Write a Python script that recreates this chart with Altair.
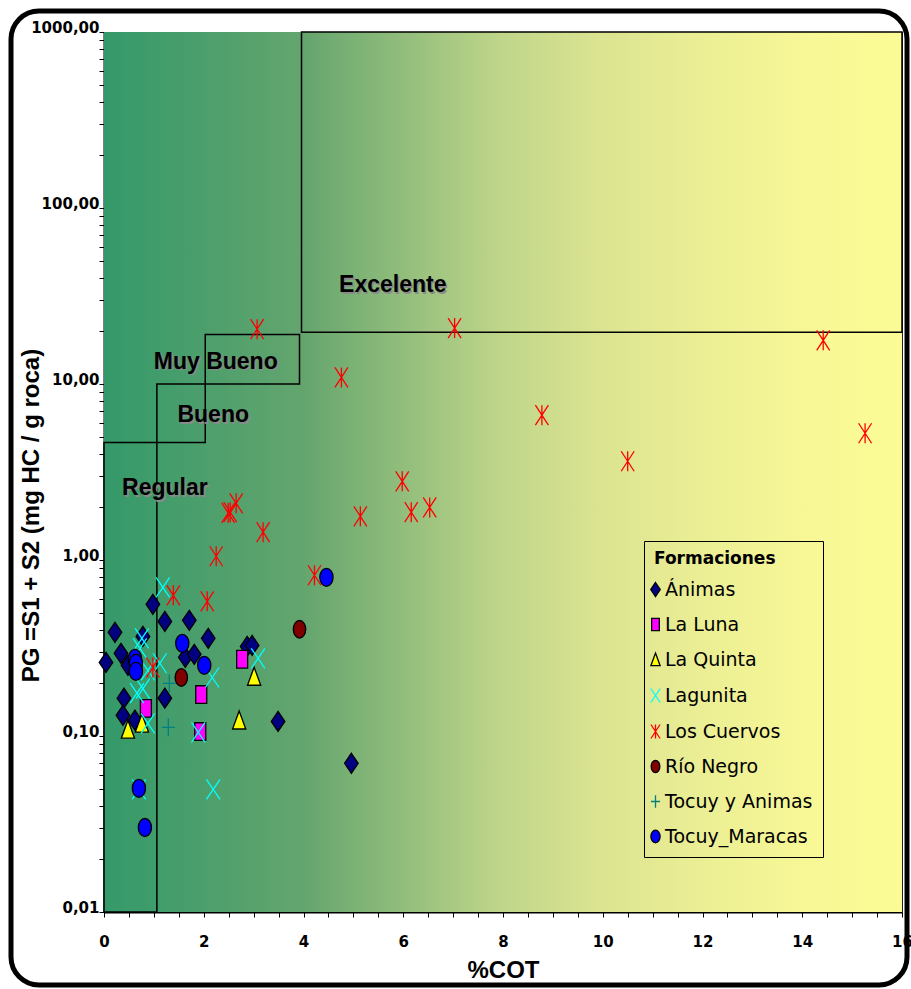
import altair as alt
import pandas as pd

# ---------------------------------------------------------------------------
# Series: %COT (x) and PG = S1 + S2 in mg HC / g roca (y)
# ---------------------------------------------------------------------------
formaciones = ["Ánimas", "La Luna", "La Quinta", "Lagunita", "Los Cuervos",
               "Río Negro", "Tocuy y Animas", "Tocuy_Maracas"]

animas_cot = [0.04, 0.22, 0.34, 0.48, 0.40, 0.38, 0.62, 0.78, 0.98, 1.22,
              1.71, 1.22, 1.63, 1.81, 2.09, 2.87, 2.97, 3.49, 4.96]
animas_pg = [0.262, 0.388, 0.295, 0.252, 0.164, 0.131, 0.123, 0.368, 0.560, 0.448,
             0.454, 0.164, 0.280, 0.291, 0.359, 0.323, 0.327, 0.121, 0.070]

laluna_cot = [0.84, 1.95, 1.93, 2.77]
laluna_pg = [0.1435, 0.172, 0.106, 0.273]

laquinta_cot = [0.48, 0.76, 3.01, 2.71]
laquinta_pg = [0.109, 0.118, 0.218, 0.123]

lagunita_cot = [1.18, 0.76, 0.72, 0.88, 1.12, 0.66, 0.78, 0.88, 3.09, 2.17,
                1.89, 0.70, 2.19]
lagunita_pg = [0.70, 0.359, 0.315, 0.236, 0.259, 0.175, 0.186, 0.118, 0.276, 0.215,
               0.105, 0.0497, 0.0497]

cuervos_cot = [3.07, 7.03, 14.42, 4.76, 8.78, 15.26, 10.50, 5.98, 2.65, 2.53,
               2.49, 3.19, 5.14, 6.16, 6.53, 2.25, 4.22, 1.39, 2.07, 0.98]
cuervos_pg = [20.5, 20.8, 17.7, 10.9, 6.65, 5.25, 3.64, 2.80, 2.10, 1.87,
              1.85, 1.44, 1.77, 1.87, 1.99, 1.05, 0.819, 0.630, 0.582, 0.245]

rionegro_cot = [1.55, 3.92]
rionegro_pg = [0.215, 0.404]

tocuy_animas_cot = [1.31, 1.29]
tocuy_animas_pg = [0.199, 0.112]

tocuy_maracas_cot = [0.62, 0.64, 0.64, 1.57, 2.01, 4.46, 0.70, 0.82]
tocuy_maracas_pg = [0.276, 0.259, 0.233, 0.336, 0.252, 0.797, 0.0504, 0.0302]

# Potential classes (boxes) and their captions
clase_nombre = ["Regular", "Bueno", "Muy Bueno", "Excelente"]
clase_cot_min = [0.0, 1.06, 2.03, 3.96]
clase_cot_max = [1.06, 2.03, 3.92, 16.0]
clase_pg_min = [0.01, 4.65, 10.0, 19.7]
clase_pg_max = [4.65, 10.0, 19.1, 1000.0]
clase_txt_cot = [1.22, 2.19, 2.24, 5.79]
clase_txt_pg = [2.56, 6.65, 13.4, 36.5]

# Axis ticks
x_ticks = [i * 0.5 for i in range(33)]
y_ticks = [m * 10.0 ** k for k in range(-2, 3) for m in range(1, 10)] + [1000.0]

# ---------------------------------------------------------------------------
series = [
    (animas_cot, animas_pg), (laluna_cot, laluna_pg), (laquinta_cot, laquinta_pg),
    (lagunita_cot, lagunita_pg), (cuervos_cot, cuervos_pg),
    (rionegro_cot, rionegro_pg), (tocuy_animas_cot, tocuy_animas_pg),
    (tocuy_maracas_cot, tocuy_maracas_pg),
]
rows = []
for name, (cots, pgs) in zip(formaciones, series):
    for c, p in zip(cots, pgs):
        rows.append({"Formación": name, "cot": c, "pg": p})
puntos = pd.DataFrame(rows)

clases = pd.DataFrame({
    "clase": clase_nombre,
    "x0": clase_cot_min, "x1": clase_cot_max,
    "y0": clase_pg_min, "y1": clase_pg_max,
    "tx": clase_txt_cot, "ty": clase_txt_pg,
})

# Marker shapes (unit-square SVG paths)
shapes = [
    "M0,-1L0.68,0L0,1L-0.68,0Z",                          # diamond
    "M-0.55,-0.88H0.55V0.88H-0.55Z",                      # tall square
    "M0,-0.92L0.66,0.88H-0.66Z",                          # triangle
    "M-0.68,-1L0.68,1M0.68,-1L-0.68,1",                   # X
    "M-0.65,-1L0.65,1M0.65,-1L-0.65,1M0,-1V1",            # asterisk
    "M0,-0.88A0.62,0.88 0 1,1 0,0.88A0.62,0.88 0 1,1 0,-0.88Z",  # ellipse
    "M0,-0.9V0.9M-0.65,0H0.65",                           # plus
    "M0,-0.9A0.66,0.9 0 1,1 0,0.9A0.66,0.9 0 1,1 0,-0.9Z",  # ellipse
]
fills = ["#000080", "#FF00FF", "#FFFF00", "transparent", "transparent",
         "#800000", "transparent", "#0000FF"]
strokes = ["#000000", "#000000", "#000000", "#00FFFF", "#FF0000",
           "#000000", "#008080", "#000000"]

TICK_FONT = "DejaVu Sans"
TITLE_FONT = "Liberation Sans"

x_scale = alt.Scale(domain=[0, 16], nice=False, zero=False)
y_scale = alt.Scale(type="log", domain=[0.01, 1000], nice=False)

x_axis = alt.Axis(
    values=x_ticks,
    labelExpr="datum.value % 2 === 0 ? format(datum.value, 'd') : ''",
    grid=False, domainColor="black", domainWidth=2, tickColor="black",
    tickSize=5, tickWidth=1, labelFont=TICK_FONT, labelFontSize=15,
    labelFontWeight="bold", labelColor="black", labelPadding=17,
    labelOverlap=False, labelFlush=False, labelBound=False,
    title="%COT", titleFont=TITLE_FONT, titleFontSize=24,
    titleFontWeight="bold", titleColor="black", titlePadding=9,
)
y_axis = alt.Axis(
    values=y_ticks,
    labelExpr=("abs(log(datum.value)/LN10 - round(log(datum.value)/LN10)) < 1e-6"
               " ? replace(format(datum.value, '.2f'), '.', ',') : ''"),
    grid=False, domainColor="black", domainWidth=2, tickColor="black",
    tickSize=5, tickWidth=1, labelFont=TICK_FONT, labelFontSize=15,
    labelFontWeight="bold", labelColor="black", labelPadding=0,
    labelBaseline="alphabetic", labelOverlap=False, labelFlush=False,
    labelBound=False,
    title="PG =S1 + S2 (mg HC / g roca)", titleFont=TITLE_FONT,
    titleFontSize=24, titleFontWeight="bold", titleColor="black",
    titleAngle=270, titleX=-73, titleY=483, titleAlign="center",
    titleBaseline="middle",
)

W, H = 798, 880

# Green-to-yellow background of the plot area
fondo = alt.Chart(pd.DataFrame({"k": [0]})).mark_rect(
    color=alt.Gradient(
        gradient="linear",
        stops=[alt.GradientStop(color="#34996a", offset=0),
               alt.GradientStop(color="#64a56e", offset=0.25),
               alt.GradientStop(color="#c0d68a", offset=0.5),
               alt.GradientStop(color="#dce491", offset=0.625),
               alt.GradientStop(color="#ebee94", offset=0.75),
               alt.GradientStop(color="#f7f796", offset=0.875),
               alt.GradientStop(color="#fcfc96", offset=1)],
        x1=0, x2=1, y1=0, y2=0,
    )
).encode(x=alt.value(0), x2=alt.value(W), y=alt.value(0), y2=alt.value(H))

cajas = alt.Chart(clases).mark_rect(
    fillOpacity=0, stroke="black", strokeWidth=1.5
).encode(
    x=alt.X("x0:Q", scale=x_scale, axis=x_axis),
    x2="x1:Q",
    y=alt.Y("y0:Q", scale=y_scale, axis=y_axis),
    y2="y1:Q",
)

sombra = alt.Chart(clases).mark_text(
    font=TITLE_FONT, fontSize=23, fontWeight="bold", color="#8a8a8a",
    dx=1.5, dy=1.5, baseline="middle", align="center",
).encode(
    x=alt.X("tx:Q", scale=x_scale, axis=x_axis),
    y=alt.Y("ty:Q", scale=y_scale, axis=y_axis),
    text="clase:N",
)
rotulos = sombra.mark_text(
    font=TITLE_FONT, fontSize=23, fontWeight="bold", color="black",
    baseline="middle", align="center",
)

leyenda = alt.Legend(
    title="Formaciones", orient="none", legendX=540, legendY=509,
    padding=10, strokeColor="black", titleFont=TICK_FONT, titleFontSize=17,
    titleFontWeight="bold", titleColor="black", titlePadding=12,
    labelFont=TICK_FONT, labelFontSize=19, labelColor="black",
    symbolSize=196, symbolStrokeWidth=1.3, rowPadding=15, labelOffset=0,
    symbolOffset=-8,
)

puntos_layer = alt.Chart(puntos).mark_point(opacity=1, strokeWidth=1.3, size=400).encode(
    x=alt.X("cot:Q", scale=x_scale, axis=x_axis),
    y=alt.Y("pg:Q", scale=y_scale, axis=y_axis),
    shape=alt.Shape("Formación:N", scale=alt.Scale(domain=formaciones, range=shapes), legend=leyenda),
    fill=alt.Fill("Formación:N", scale=alt.Scale(domain=formaciones, range=fills), legend=leyenda),
    stroke=alt.Stroke("Formación:N", scale=alt.Scale(domain=formaciones, range=strokes), legend=leyenda),
)

# Rounded outer frame around the whole chart
marco = alt.Chart(pd.DataFrame({"k": [0]})).mark_rect(
    fillOpacity=0, stroke="black", strokeWidth=5, cornerRadius=28
).encode(x=alt.value(-93), x2=alt.value(803), y=alt.value(-21), y2=alt.value(953))

chart = alt.layer(fondo, cajas, sombra, rotulos, puntos_layer, marco).properties(
    width=W, height=H,
    autosize=alt.AutoSizeParams(type="none"),
    padding={"left": 104, "top": 32, "right": 9, "bottom": 77},
    background="white",
).configure_view(stroke="#222222", strokeWidth=1)

chart.save("out.html", embed_options={"renderer": "svg", "actions": False})
